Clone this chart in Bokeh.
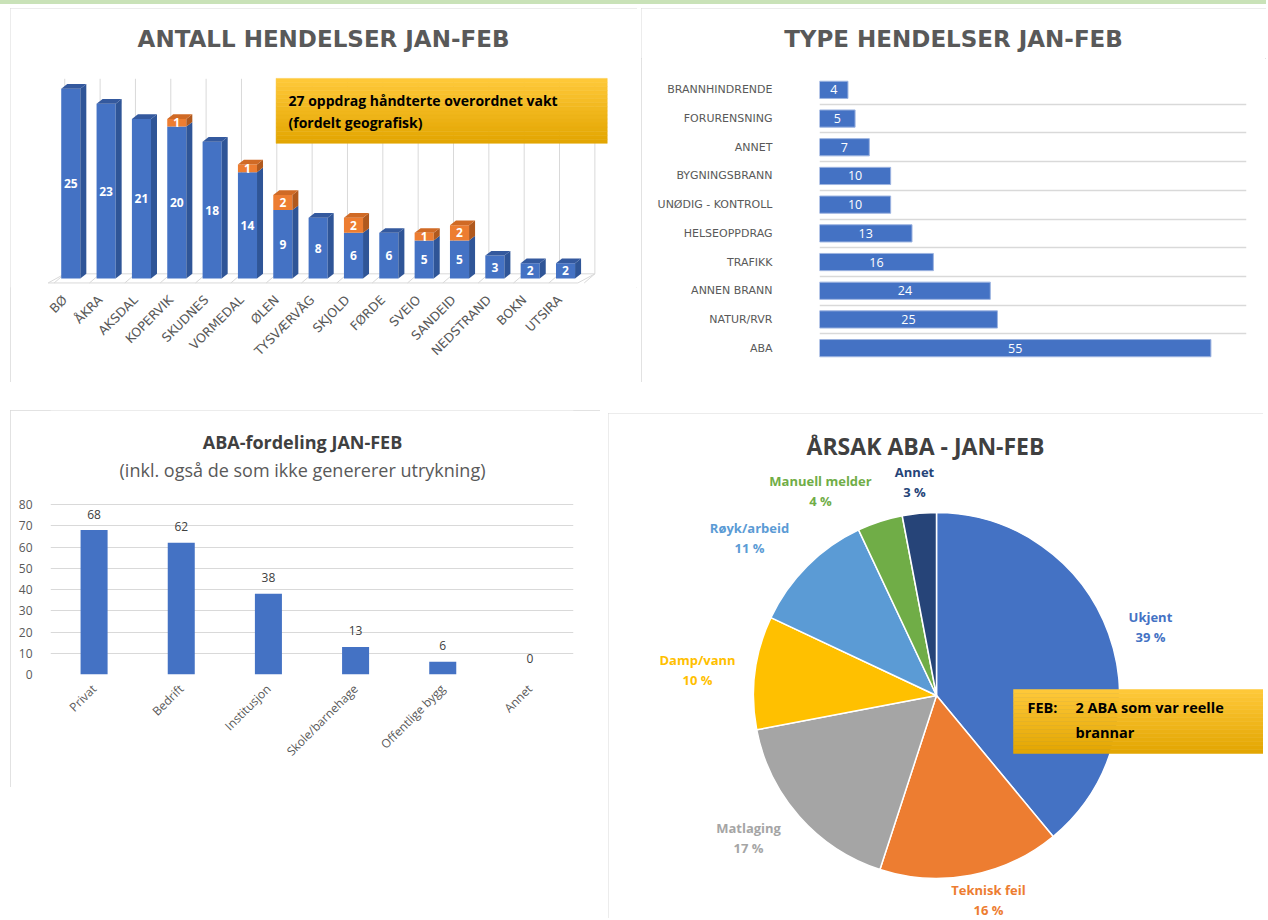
import math
from bokeh.plotting import figure
from bokeh.models import Range1d, FixedTicker, Label, Spacer
from bokeh.layouts import row, column
from bokeh.embed import file_html
from bokeh.resources import INLINE
from bokeh.core.properties import value

# ---------------- data ----------------
places = ["BØ", "ÅKRA", "AKSDAL", "KOPERVIK", "SKUDNES", "VORMEDAL", "ØLEN", "TYSVÆRVÅG",
          "SKJOLD", "FØRDE", "SVEIO", "SANDEID", "NEDSTRAND", "BOKN", "UTSIRA"]
own_counts = [25, 23, 21, 20, 18, 14, 9, 8, 6, 6, 5, 5, 3, 2, 2]
overordnet_counts = [0, 0, 0, 1, 0, 1, 2, 0, 2, 0, 1, 2, 0, 0, 0]

event_types = ["BRANNHINDRENDE", "FORURENSNING", "ANNET", "BYGNINGSBRANN", "UNØDIG - KONTROLL",
               "HELSEOPPDRAG", "TRAFIKK", "ANNEN BRANN", "NATUR/RVR", "ABA"]
event_counts = [4, 5, 7, 10, 10, 13, 16, 24, 25, 55]

aba_types = ["Privat", "Bedrift", "Institusjon", "Skole/barnehage", "Offentlige bygg", "Annet"]
aba_counts = [68, 62, 38, 13, 6, 0]

causes = ["Ukjent", "Teknisk feil", "Matlaging", "Damp/vann", "Røyk/arbeid", "Manuell melder", "Annet"]
cause_pct = [39, 16, 17, 10, 11, 4, 3]

# ---------------- styles ----------------
BLUE = "#4472C4"
BLUE_SIDE = "#2F5597"
BLUE_TOP = "#34599E"
ORANGE = "#ED7D31"
ORANGE_SIDE = "#B0591E"
ORANGE_TOP = "#D06A25"
GRID = "#d9d9d9"
TXT = "#595959"
DARK = "#404040"
cause_colors = ["#4472C4", "#ED7D31", "#A5A5A5", "#FFC000", "#5B9BD5", "#70AD47", "#264478"]
# label placement of the pie (in pie-radius units, relative to the centre)
pie_label_pos = [(1.169, 0.377), (0.284, -1.115), (-1.027, -0.781), (-1.306, 0.142),
                 (-1.022, 0.858), (-0.634, 1.120), (-0.120, 1.169)]
BORDER = {"outline": "1px solid #d9d9d9", "outline-offset": "-1px"}


def mix(c1, c2, t):
    a = [int(c1[i:i + 2], 16) for i in (1, 3, 5)]
    b = [int(c2[i:i + 2], 16) for i in (1, 3, 5)]
    return "#%02x%02x%02x" % tuple(round(a[k] + (b[k] - a[k]) * t) for k in range(3))


def canvas_label(p, x, y, text, size, color, bold=False, font="Open Sans", align="center"):
    p.add_layout(Label(x=x, y=y, x_units="canvas", y_units="canvas", text=text,
                       text_font=font, text_font_size=f"{size}px", text_color=color,
                       text_font_style="bold" if bold else "normal",
                       text_align=align, text_baseline="middle"))


def gradient_box(p, x0, x1, y_top, y_bot, c_top, c_bot, n=16):
    ys = [y_top + (y_bot - y_top) * k / n for k in range(n + 1)]
    cols = [mix(c_top, c_bot, (k + 0.5) / n) for k in range(n)]
    p.quad(left=[x0] * n, right=[x1] * n, top=ys[:-1], bottom=ys[1:],
           fill_color=cols, line_color=cols, line_width=0.5)


def base_fig(w, h, xr, yr, l, r, t, b, border=True):
    p = figure(width=w, height=h, x_range=xr, y_range=yr, output_backend="svg",
               toolbar_location=None, min_border_left=l, min_border_right=r,
               min_border_top=t, min_border_bottom=b)
    p.outline_line_color = None
    p.background_fill_color = "white"
    p.border_fill_color = "white"
    if border:
        p.styles = BORDER
    return p


def plain_axis(ax, font, size, standoff):
    ax.axis_line_color = None
    ax.major_tick_line_color = None
    ax.minor_tick_line_color = None
    ax.major_label_text_font = font
    ax.major_label_text_font_size = size
    ax.major_label_text_color = TXT
    ax.major_label_standoff = standoff


# ================= Panel 1: 3D stacked columns =================
W1, H1 = 627, 374
U1X, U1Y = 35.34, 7.59          # px per category / per count
X1_LEFT = -0.8 - 32 / U1X
X1_RIGHT = X1_LEFT + W1 / U1X
Y1_BOT = -1.2
Y1_TOP = Y1_BOT + (H1 - 95) / U1Y
p1 = base_fig(W1, H1, Range1d(X1_LEFT, X1_RIGHT), Range1d(Y1_BOT, Y1_TOP), 0, 0, 0, 95)
p1.grid.visible = False
p1.yaxis.visible = False

n1 = len(places)
xs1 = list(range(n1))
BW, DX, DY = 0.27, 0.17, 0.62

# back wall grid lines, floor and its slanted division lines
bnd = [k - 0.5 + 0.33 for k in range(n1 + 1)]
p1.segment(x0=bnd, y0=[0.6] * len(bnd), x1=bnd, y1=[26.3] * len(bnd), line_color=GRID, line_width=1)
p1.patch([-0.64, n1 - 0.65, n1 - 0.17, -0.17], [-0.6, -0.6, 0.6, 0.6],
         fill_color="white", line_color=GRID, line_width=1)
p1.segment(x0=bnd, y0=[0.6] * len(bnd), x1=[b - 0.3 for b in bnd], y1=[-0.6] * len(bnd),
           line_color=GRID, line_width=1)

fl, fr, fb, ft, fc = [], [], [], [], []
sxs, sys_, sc = [], [], []
txs, tys, tc = [], [], []
for i, (b, o) in enumerate(zip(own_counts, overordnet_counts)):
    segs = [(0, b, BLUE, BLUE_SIDE, BLUE_TOP)]
    if o:
        segs.append((b, b + o, ORANGE, ORANGE_SIDE, ORANGE_TOP))
    for (y0, y1, cf, cs, ct) in segs:
        fl.append(i - BW); fr.append(i + BW); fb.append(y0); ft.append(y1); fc.append(cf)
        sxs.append([i + BW, i + BW + DX, i + BW + DX, i + BW])
        sys_.append([y0, y0 + DY, y1 + DY, y1]); sc.append(cs)
    y1, ct = segs[-1][1], segs[-1][4]
    txs.append([i - BW, i - BW + DX, i + BW + DX, i + BW])
    tys.append([y1, y1 + DY, y1 + DY, y1]); tc.append(ct)

p1.quad(left=fl, right=fr, bottom=fb, top=ft, fill_color=fc, line_color=None)
p1.patches(sxs, sys_, fill_color=sc, line_color=None)
p1.patches(txs, tys, fill_color=tc, line_color=None)

lx, ly, lt = [], [], []
for i, (b, o) in enumerate(zip(own_counts, overordnet_counts)):
    lx.append(i); ly.append(b / 2); lt.append(str(b))
    if o:
        lx.append(i); ly.append(b + o / 2); lt.append(str(o))
p1.text(x=lx, y=ly, text=lt, text_color="white", text_font=value("Open Sans"),
        text_font_style="bold", text_font_size="12px", text_align="center", text_baseline="middle")

LBL_SHIFT = 0.17   # rotated labels end slightly left of the bar centre
tick1 = [i - LBL_SHIFT for i in xs1]
p1.xaxis.ticker = FixedTicker(ticks=tick1)
p1.xaxis.major_label_overrides = {t: n for t, n in zip(tick1, places)}
p1.xaxis.major_label_orientation = math.pi / 4
plain_axis(p1.xaxis, "DejaVu Sans", "12.5px", 4)

# annotation box (chart coordinates)
gradient_box(p1, 5.81, 15.18, 26.35, 17.79, "#FFC93A", "#E2A500")
canvas_label(p1, 278, 92, "27 oppdrag håndterte overordnet vakt", 14, "black", bold=True, align="left")
canvas_label(p1, 278, 114, "(fordelt geografisk)", 14, "black", bold=True, align="left")
canvas_label(p1, 313, 30, "ANTALL HENDELSER JAN-FEB", 23, TXT, bold=True, font="DejaVu Sans")

# ================= Panel 2: horizontal bars (title strip + chart) =================
W2, H2T, H2 = 625, 50, 324
p2t = base_fig(W2, H2T, Range1d(0, 1), Range1d(0, 1), 0, 0, 0, 0, border=False)
p2t.axis.visible = False
p2t.grid.visible = False
canvas_label(p2t, 312, 30, "TYPE HENDELSER JAN-FEB", 23, TXT, bold=True, font="DejaVu Sans")

p2 = base_fig(W2, H2, Range1d(0, 60), Range1d(-0.5, 9.5), 178, 20, 17, 20, border=False)
n2 = len(event_types)
ypos = [n2 - 1 - k for k in range(n2)]
p2.hbar(y=ypos, left=0, right=event_counts, height=0.6, fill_color=BLUE,
        line_color="#9DB4E0", line_width=1)
p2.text(x=[c / 2 for c in event_counts], y=ypos, text=[str(c) for c in event_counts],
        text_color="white", text_font=value("Open Sans"), text_font_size="12.5px",
        text_align="center", text_baseline="middle")
p2.xaxis.visible = False
p2.xgrid.visible = False
p2.ygrid.ticker = FixedTicker(ticks=[k - 0.5 for k in range(n2 + 1)])
p2.ygrid.grid_line_color = GRID
p2.ygrid.grid_line_width = 1.5
p2.yaxis.ticker = FixedTicker(ticks=ypos)
p2.yaxis.major_label_overrides = {ypos[k]: event_types[k] for k in range(n2)}
plain_axis(p2.yaxis, "DejaVu Sans", "11px", 41)

# ================= Panel 3: ABA-fordeling =================
W3, H3 = 590, 377
U3Y = 2.125
p3 = base_fig(W3, H3, Range1d(-0.5, 5.5), Range1d(0, (H3 - 113) / U3Y), 40, 27, 0, 113)
xs3 = list(range(len(aba_types)))
p3.vbar(x=xs3, top=aba_counts, width=0.31, fill_color=BLUE, line_color=None)
p3.text(x=xs3, y=aba_counts, text=[str(c) for c in aba_counts], y_offset=-16,
        text_color=DARK, text_font=value("Open Sans"), text_font_size="12px",
        text_align="center", text_baseline="middle")
p3.xgrid.visible = False
p3.ygrid.grid_line_color = GRID
p3.ygrid.ticker = FixedTicker(ticks=list(range(0, 81, 10)))
p3.yaxis.ticker = FixedTicker(ticks=list(range(0, 81, 10)))
plain_axis(p3.yaxis, "Open Sans", "12px", 12)
p3.xaxis.ticker = FixedTicker(ticks=xs3)
p3.xaxis.major_label_overrides = {i: n for i, n in enumerate(aba_types)}
p3.xaxis.major_label_orientation = math.pi / 4
plain_axis(p3.xaxis, "Open Sans", "12px", 6)
canvas_label(p3, 292, 31, "ABA-fordeling JAN-FEB", 18, DARK, bold=True)
canvas_label(p3, 292, 59, "(inkl. også de som ikke genererer utrykning)", 18, TXT)

# ================= Panel 4: pie =================
W4, H4 = 655, 505
CX, CY, R = 328, 282, 183
p4 = base_fig(W4, H4, Range1d(-CX / R, (W4 - CX) / R), Range1d(-(H4 - CY) / R, CY / R), 0, 0, 0, 0)
p4.axis.visible = False
p4.grid.visible = False

total = sum(cause_pct)
cum = [0]
for v in cause_pct:
    cum.append(cum[-1] + v / total)
starts = [math.pi / 2 - 2 * math.pi * c for c in cum[:-1]]
ends = [math.pi / 2 - 2 * math.pi * c for c in cum[1:]]
p4.wedge(x=0, y=0, radius=1, start_angle=starts, end_angle=ends, direction="clock",
         fill_color=cause_colors, line_color="white", line_width=1.5)

lxs = [pos[0] for pos in pie_label_pos]
lys = [pos[1] for pos in pie_label_pos]
p4.text(x=lxs, y=lys, text=causes, y_offset=-10, text_color=cause_colors,
        text_font=value("Open Sans"), text_font_style="bold", text_font_size="13px",
        text_align="center", text_baseline="middle")
p4.text(x=lxs, y=lys, text=[f"{v} %" for v in cause_pct], y_offset=10, text_color=cause_colors,
        text_font=value("Open Sans"), text_font_style="bold", text_font_size="13px",
        text_align="center", text_baseline="middle")

# FEB box
gradient_box(p4, (405 - CX) / R, (W4 + 5 - CX) / R, (CY - 276) / R, (CY - 340) / R, "#FFC93A", "#E2A500")
canvas_label(p4, 419, 294, "FEB:", 14.5, "black", bold=True, align="left")
canvas_label(p4, 467, 294, "2 ABA som var reelle", 14.5, "black", bold=True, align="left")
canvas_label(p4, 467, 319, "brannar", 14.5, "black", bold=True, align="left")
canvas_label(p4, 317, 32, "ÅRSAK ABA - JAN-FEB", 23, DARK, bold=True)

layout = column(
    Spacer(width=1266, height=4, styles={"background": "#C9E2B8"}),
    Spacer(height=4),
    row(Spacer(width=10), column(p1), Spacer(width=4),
        column(row(p2t), row(p2), styles=BORDER)),
    Spacer(height=28),
    row(Spacer(width=10), column(p3), Spacer(width=8), column(Spacer(height=3), p4)),
)

open("out.html", "w").write(file_html(layout, INLINE))
